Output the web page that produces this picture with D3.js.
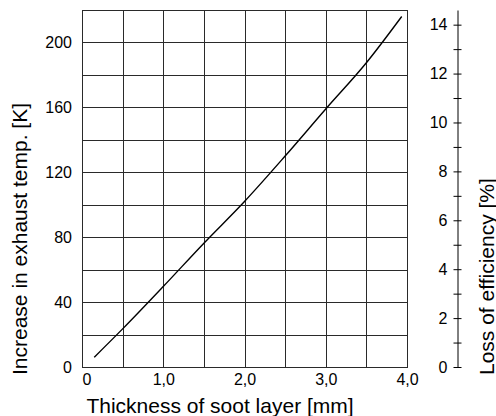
<!DOCTYPE html>
<html>
<head>
<meta charset="utf-8">
<script src="https://cdn.jsdelivr.net/npm/d3@7"></script>
<style>
  body { margin: 0; background: #fff; }
  svg { font-family: "Liberation Sans", Arial, sans-serif; }
</style>
</head>
<body>
<svg width="496" height="416"></svg>
<script>
// soot layer thickness [mm] vs increase in exhaust temp [K]
const thickness = [0.15, 0.5, 1.0, 1.5, 2.0, 2.5, 3.0, 3.5, 3.935]
const tempRise  = [6, 23.5, 49.6, 76.3, 102, 130, 159, 187.5, 216]

const xTicks = [0, 1, 2, 3, 4]
const yTicks = [0, 40, 80, 120, 160, 200]
const effTicks = [0, 2, 4, 6, 8, 10, 12, 14]

const svg = d3.select("svg")

const mLeft = 82, mRight = 407, mTop = 10, mBottom = 367

const x = d3.scaleLinear().domain([0, 4]).range([mLeft, mRight])
const y = d3.scaleLinear().domain([0, 220]).range([mBottom, mTop])
const eff = d3.scaleLinear().domain([0, 14.6]).range([mBottom, mTop])

// grid
const grid = svg.append("g")
   .attr("stroke", "#2a2a2a")
   .attr("stroke-width", 1)
   .attr("shape-rendering", "crispEdges")

grid.selectAll(".v")
   .data(d3.range(0, 4.01, 0.5))
   .join("line")
   .attr("x1", d => Math.round(x(d)) + 0.5).attr("x2", d => Math.round(x(d)) + 0.5)
   .attr("y1", mTop).attr("y2", mBottom)

grid.selectAll(".h")
   .data(d3.range(0, 221, 20))
   .join("line")
   .attr("y1", d => Math.round(y(d)) + 0.5).attr("y2", d => Math.round(y(d)) + 0.5)
   .attr("x1", mLeft).attr("x2", mRight + 1)

// left axis
svg.append("g")
   .attr("transform", `translate(${mLeft},0)`)
   .call(d3.axisLeft(y).tickValues(yTicks).tickSize(0).tickPadding(10))
   .call(g => g.select(".domain").remove())
   .selectAll("text").attr("font-size", 16).attr("font-family", null).attr("fill", "#000")

// bottom axis
svg.append("g")
   .attr("transform", `translate(0,${mBottom})`)
   .call(d3.axisBottom(x).tickValues(xTicks).tickSize(0).tickPadding(7)
      .tickFormat(d => d === 0 ? "0" : d.toFixed(1).replace(".", ",")))
   .call(g => g.select(".domain").remove())
   .call(g => g.selectAll("text").attr("font-size", 16).attr("font-family", null).attr("fill", "#000"))
   .call(g => g.select(".tick text").attr("text-anchor", "start"))

// right axis: loss of efficiency
svg.append("g")
   .attr("transform", "translate(457.5,0)")
   .call(d3.axisLeft(eff).tickValues(d3.range(0, 15)).tickSize(4).tickSizeOuter(0).tickPadding(6)
      .tickFormat(d => effTicks.includes(d) ? d : ""))
   .call(g => g.select(".domain").attr("stroke", "#000"))
   .call(g => g.selectAll(".tick line").attr("x1", 4).attr("x2", -4).attr("stroke", "#000"))
   .call(g => g.selectAll("text").attr("font-size", 16).attr("font-family", null).attr("fill", "#000"))

// curve
const line = d3.line()
   .curve(d3.curveMonotoneX)
   .x((d, i) => x(thickness[i]))
   .y(d => y(d))

svg.append("path")
   .datum(tempRise)
   .attr("fill", "none")
   .attr("stroke", "#000")
   .attr("stroke-width", 1.4)
   .attr("d", line)

// axis titles
svg.append("text")
   .attr("x", 220).attr("y", 413)
   .attr("text-anchor", "middle")
   .attr("font-size", 21)
   .text("Thickness of soot layer [mm]")

svg.append("text")
   .attr("transform", "translate(27,375) rotate(-90)")
   .attr("text-anchor", "start")
   .attr("font-size", 21)
   .text("Increase in exhaust temp. [K]")

svg.append("text")
   .attr("transform", "translate(493.5,375) rotate(-90)")
   .attr("text-anchor", "start")
   .attr("font-size", 21)
   .text("Loss of efficiency [%]")
</script>
</body>
</html>
